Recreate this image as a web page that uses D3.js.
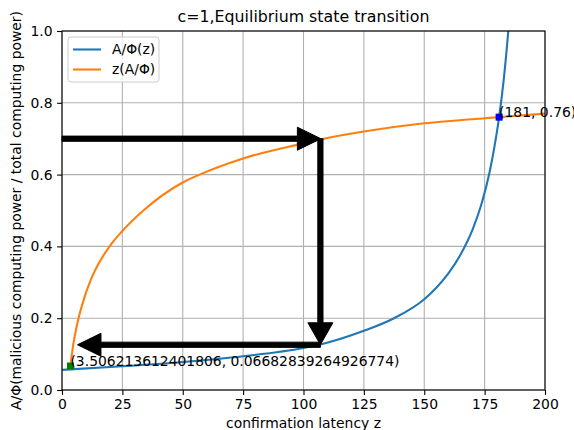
<!DOCTYPE html>
<html>
<head>
<meta charset="utf-8">
<script src="https://cdnjs.cloudflare.com/ajax/libs/d3/7.8.5/d3.min.js"></script>
<style>
  body { margin: 0; background: white; }
  svg { font-family: "DejaVu Sans", sans-serif; }
</style>
</head>
<body>
<svg id="chart" width="574" height="430"></svg>
<script>
// Data
var blueZ = [0, 25, 50, 75, 100, 107, 125, 137.5, 150, 155, 160, 165, 170, 174, 177, 179, 181, 183, 184.8, 186];
var blueY = [0.056, 0.066, 0.078, 0.094, 0.117, 0.127, 0.165, 0.2, 0.253, 0.285, 0.325, 0.377, 0.447, 0.525, 0.605, 0.675, 0.76, 0.87, 1.0, 1.1];

var orangeZ = [3.5, 4.2, 5.0, 6.0, 7.5, 9.5, 12, 15, 20, 25, 33.7, 50, 57, 75, 100, 107, 125, 150, 175, 181, 200];
var orangeY = [0.0668, 0.105, 0.14, 0.175, 0.217, 0.262, 0.308, 0.35, 0.403, 0.443, 0.5, 0.578, 0.6, 0.645, 0.687, 0.698, 0.72, 0.743, 0.757, 0.76, 0.77];

var xTicks = [0, 25, 50, 75, 100, 125, 150, 175, 200];
var yTicks = [0.0, 0.2, 0.4, 0.6, 0.8, 1.0];

// arrows: tail -> tip, in data units
var arrowFrom = [[0, 0.70], [107, 0.70], [107, 0.126]];
var arrowTo = [[107.2, 0.70], [107, 0.126], [6.4, 0.126]];

// marked points and their labels
var pointZ = [3.506213612401806, 181];
var pointY = [0.06682839264926774, 0.76];
var pointColor = ['green', 'blue'];
var pointLabel = ['(3.506213612401806, 0.06682839264926774)', '(181, 0.76)'];

var legendLabels = ['A/\u03a6(z)', 'z(A/\u03a6)'];
var lineColors = ['#1f77b4', '#ff7f0e'];

// Layout
var margin = {top: 31, right: 29, bottom: 40, left: 62};
var width = 574 - margin.left - margin.right;
var height = 430 - margin.top - margin.bottom;
var fontSize = 13.9;

var svg = d3.select('#chart').append('g')
  .attr('transform', 'translate(' + margin.left + ',' + margin.top + ')');

var xscale = d3.scaleLinear().domain([0, 200]).range([0, width]);
var yscale = d3.scaleLinear().domain([0, 1]).range([height, 0]);

svg.append('clipPath').attr('id', 'clip')
  .append('rect').attr('width', width).attr('height', height);

// grid
function draw_grid(){
  svg.append('g').selectAll('line').data(xTicks).enter().append('line')
    .attr('x1', function(d){ return xscale(d); })
    .attr('x2', function(d){ return xscale(d); })
    .attr('y1', 0).attr('y2', height)
    .attr('stroke', '#b0b0b0').attr('stroke-width', 1.1);
  svg.append('g').selectAll('line').data(yTicks).enter().append('line')
    .attr('y1', function(d){ return yscale(d); })
    .attr('y2', function(d){ return yscale(d); })
    .attr('x1', 0).attr('x2', width)
    .attr('stroke', '#b0b0b0').attr('stroke-width', 1.1);
}

function draw_curve(zs, ys, color){
  var pts = zs.map(function(z, i){ return [z, ys[i]]; });
  svg.append('path')
    .datum(pts)
    .attr('clip-path', 'url(#clip)')
    .attr('fill', 'none')
    .attr('stroke', color)
    .attr('stroke-width', 2.1)
    .attr('stroke-linejoin', 'round')
    .attr('stroke-linecap', 'butt')
    .attr('d', d3.line()
      .curve(d3.curveMonotoneX)
      .x(function(d){ return xscale(d[0]); })
      .y(function(d){ return yscale(d[1]); }));
}

function draw_arrow(from, to){
  // pixel space polygon: shaft then head
  var x0 = xscale(from[0]), y0 = yscale(from[1]);
  var x1 = xscale(to[0]), y1 = yscale(to[1]);
  var dx = x1 - x0, dy = y1 - y0;
  var len = Math.sqrt(dx*dx + dy*dy);
  var ux = dx/len, uy = dy/len;   // along
  var nx = -uy, ny = ux;          // normal
  var horizontal = Math.abs(dx) > Math.abs(dy);
  var hl = horizontal ? 23.5 : 22;
  var hw = horizontal ? 11.5 : 12.5;
  var sw = 2.6;
  var bx = x1 - ux*hl, by = y1 - uy*hl;
  var p = [
    [x0 + nx*sw, y0 + ny*sw],
    [bx + nx*sw, by + ny*sw],
    [bx + nx*hw, by + ny*hw],
    [x1, y1],
    [bx - nx*hw, by - ny*hw],
    [bx - nx*sw, by - ny*sw],
    [x0 - nx*sw, y0 - ny*sw]
  ];
  svg.append('polygon')
    .attr('points', p.map(function(q){ return q.join(','); }).join(' '))
    .attr('fill', 'black')
    .attr('stroke', 'black')
    .attr('stroke-width', 1);
}

function draw_axes(){
  var xAxis = svg.append('g')
    .attr('transform', 'translate(0,' + height + ')')
    .call(d3.axisBottom(xscale).tickValues(xTicks).tickFormat(d3.format('d'))
      .tickSizeInner(4.9).tickSizeOuter(0).tickPadding(4.6));
  var yAxis = svg.append('g')
    .call(d3.axisLeft(yscale).tickValues(yTicks).tickFormat(d3.format('.1f'))
      .tickSizeInner(4.9).tickSizeOuter(0).tickPadding(4.6));
  [xAxis, yAxis].forEach(function(a){
    a.select('.domain').remove();
    a.selectAll('line').attr('stroke', 'black').attr('stroke-width', 1.1);
    a.selectAll('text').attr('fill', 'black')
      .style('font-size', fontSize + 'px')
      .style('font-family', '"DejaVu Sans"');
  });
  // spines
  svg.append('rect')
    .attr('width', width).attr('height', height)
    .attr('fill', 'none').attr('stroke', 'black').attr('stroke-width', 1.1);
}

function axes_labels(){
  svg.append('text')
    .attr('x', width/2).attr('y', height + 38)
    .style('text-anchor', 'middle').style('font-size', fontSize + 'px')
    .text('confirmation latency z');
  svg.append('text')
    .attr('transform', 'translate(' + (-41) + ',' + (height/2) + ') rotate(-90)')
    .style('text-anchor', 'middle').style('font-size', fontSize + 'px')
    .text('A/\u03a6(malicious computing power / total computing power)');
  svg.append('text')
    .attr('x', width/2).attr('y', -9)
    .style('text-anchor', 'middle').style('font-size', '15.8px')
    .text('c=1,Equilibrium state transition');
}

function draw_legend(){
  var g = svg.append('g').attr('transform', 'translate(6,6)');
  g.append('rect')
    .attr('width', 91).attr('height', 45).attr('rx', 3)
    .attr('fill', 'white').attr('fill-opacity', 0.8)
    .attr('stroke', '#cccccc').attr('stroke-width', 1);
  legendLabels.forEach(function(lab, i){
    var yy = 12.5 + i*20;
    g.append('line')
      .attr('x1', 5).attr('x2', 33).attr('y1', yy).attr('y2', yy)
      .attr('stroke', lineColors[i]).attr('stroke-width', 2.1);
    g.append('text')
      .attr('x', 44).attr('y', yy).attr('dy', '0.35em')
      .style('font-size', fontSize + 'px')
      .text(lab);
  });
}

draw_grid();
draw_curve(blueZ, blueY, lineColors[0]);
draw_curve(orangeZ, orangeY, lineColors[1]);
for (var i = 0; i < arrowFrom.length; i++){
  draw_arrow(arrowFrom[i], arrowTo[i]);
}
for (var j = 0; j < pointZ.length; j++){
  svg.append('rect')
    .attr('x', xscale(pointZ[j]) - 3.5).attr('y', yscale(pointY[j]) - 3.5)
    .attr('width', 7).attr('height', 7)
    .attr('fill', pointColor[j]);
  svg.append('text')
    .attr('x', xscale(pointZ[j])).attr('y', yscale(pointY[j]))
    .style('font-size', fontSize + 'px')
    .attr('fill', 'black')
    .text(pointLabel[j]);
}
draw_axes();
axes_labels();
draw_legend();
</script>
</body>
</html>
